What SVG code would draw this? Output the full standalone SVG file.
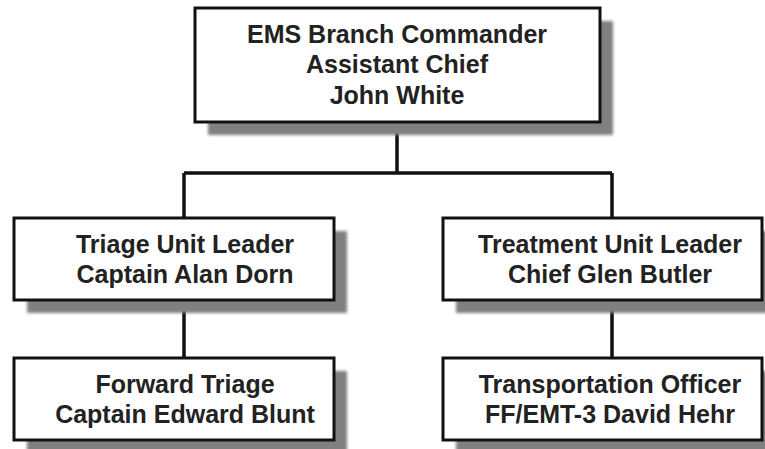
<svg xmlns="http://www.w3.org/2000/svg" width="765" height="449" viewBox="0 0 765 449">
  <defs>
    <filter id="blur" x="-10%" y="-20%" width="120%" height="140%">
      <feGaussianBlur stdDeviation="1.5"/>
    </filter>
  </defs>
  <style>
    .shadow { fill: #808080; filter: url(#blur); }
    .box { fill: #ffffff; stroke: #111111; stroke-width: 3; }
    .lbl { font-family: "Liberation Sans", Arial, sans-serif; font-weight: bold; font-size: 25px; fill: #222222; text-anchor: middle; }
    .conn { fill: none; stroke: #111111; stroke-width: 3.5; }
  </style>
  <rect width="765" height="449" fill="#ffffff"/>

  <g id="connectors">
    <path class="conn" d="M397 122 V173 M184 173 H612 M184 173 V218 M612 173 V218 M184 300 V358 M612 300 V358"/>
  </g>

  <g id="ems-branch-commander">
    <rect class="shadow" x="208" y="21" width="405" height="114"/>
    <rect class="box" x="195" y="8" width="405" height="114"/>
    <text class="lbl" x="397" y="43">EMS Branch Commander</text>
    <text class="lbl" x="397" y="73">Assistant Chief</text>
    <text class="lbl" x="397" y="104">John White</text>
  </g>

  <g id="triage-unit-leader">
    <rect class="shadow" x="27" y="231" width="320" height="82"/>
    <rect class="box" x="14" y="218" width="320" height="82"/>
    <text class="lbl" x="185" y="253">Triage Unit Leader</text>
    <text class="lbl" x="185" y="283">Captain Alan Dorn</text>
  </g>

  <g id="forward-triage">
    <rect class="shadow" x="27" y="371" width="320" height="82"/>
    <rect class="box" x="14" y="358" width="320" height="82"/>
    <text class="lbl" x="185" y="393">Forward Triage</text>
    <text class="lbl" x="185" y="423">Captain Edward Blunt</text>
  </g>

  <g id="treatment-unit-leader">
    <rect class="shadow" x="456" y="231" width="319" height="82"/>
    <rect class="box" x="443" y="218" width="319" height="82"/>
    <text class="lbl" x="610" y="253">Treatment Unit Leader</text>
    <text class="lbl" x="610" y="283">Chief Glen Butler</text>
  </g>

  <g id="transportation-officer">
    <rect class="shadow" x="456" y="371" width="319" height="82"/>
    <rect class="box" x="443" y="358" width="319" height="82"/>
    <text class="lbl" x="610" y="393">Transportation Officer</text>
    <text class="lbl" x="610" y="423">FF/EMT-3 David Hehr</text>
  </g>
</svg>
